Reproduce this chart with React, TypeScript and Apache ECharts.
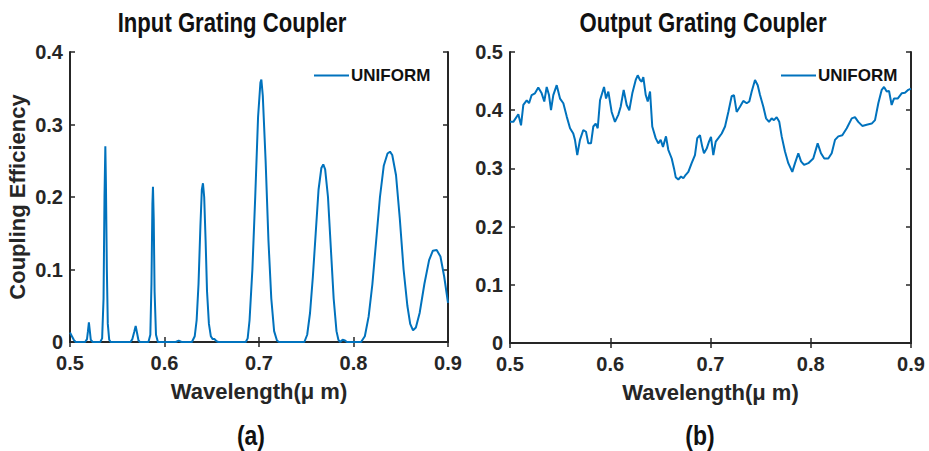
import React, { useEffect, useRef } from "react";
import * as echarts from "echarts";

// Panel (a): Input grating coupler
const inputWavelength = [
  0.5, 0.502, 0.504, 0.506, 0.516, 0.518, 0.519, 0.52, 0.521, 0.522, 0.524,
  0.532, 0.534, 0.5355, 0.5365, 0.5374, 0.538, 0.539, 0.54, 0.5415, 0.543,
  0.564, 0.566, 0.568, 0.5695, 0.571, 0.5725, 0.574,
  0.583, 0.585, 0.5862, 0.5872, 0.5878, 0.5886, 0.5895, 0.591, 0.593,
  0.612, 0.615, 0.618,
  0.629, 0.632, 0.634, 0.636, 0.638, 0.6395, 0.6407, 0.642, 0.6435, 0.645, 0.647, 0.649, 0.651, 0.653, 0.655, 0.657,
  0.686, 0.688, 0.69, 0.693, 0.696, 0.699, 0.7015, 0.7025, 0.704, 0.707, 0.71, 0.713, 0.716, 0.719, 0.721,
  0.748, 0.751, 0.754, 0.757, 0.76, 0.763, 0.766, 0.768, 0.77, 0.773, 0.776, 0.779, 0.782, 0.784, 0.786, 0.7885, 0.791, 0.793,
  0.808, 0.812, 0.816, 0.82, 0.824, 0.828, 0.832, 0.836, 0.8386, 0.841, 0.845, 0.849, 0.853, 0.857, 0.86, 0.863,
  0.866, 0.87, 0.875, 0.88, 0.884, 0.888, 0.892, 0.896, 0.9,
];
const inputEfficiency = [
  0.013, 0.008, 0.003, 0.0, 0.0, 0.004, 0.015, 0.027, 0.015, 0.003, 0.0,
  0.0, 0.005, 0.06, 0.2, 0.27, 0.22, 0.1, 0.025, 0.003, 0.0,
  0.0, 0.004, 0.014, 0.022, 0.012, 0.002, 0.0,
  0.0, 0.01, 0.08, 0.19, 0.214, 0.17, 0.07, 0.01, 0.0,
  0.0, 0.002, 0.0,
  0.0, 0.008, 0.03, 0.08, 0.16, 0.21, 0.219, 0.2, 0.14, 0.07, 0.025, 0.008, 0.004, 0.004, 0.001, 0.0,
  0.0, 0.005, 0.03, 0.1, 0.2, 0.31, 0.358, 0.362, 0.34, 0.25, 0.14, 0.06, 0.015, 0.002, 0.0,
  0.0, 0.01, 0.04, 0.09, 0.15, 0.21, 0.24, 0.245, 0.238, 0.2, 0.13, 0.06, 0.015, 0.003, 0.0, 0.003, 0.002, 0.0,
  0.0, 0.008, 0.035, 0.08, 0.14, 0.2, 0.243, 0.26, 0.2625, 0.258, 0.23, 0.17, 0.1, 0.05, 0.025, 0.016,
  0.02, 0.04, 0.08, 0.113, 0.126, 0.127, 0.118, 0.09, 0.054,
];

// Panel (b): Output grating coupler
const outputWavelength = [
  0.5, 0.5033, 0.5083, 0.511, 0.5133, 0.5167, 0.519, 0.5216, 0.5249, 0.5282,
  0.5316, 0.5342, 0.5366, 0.5389, 0.5409, 0.5432, 0.5466, 0.5499, 0.5532, 0.5566,
  0.5599, 0.5631, 0.5648, 0.5671, 0.5698, 0.5731, 0.5758, 0.5781, 0.5808, 0.5831,
  0.5855, 0.5875, 0.5898, 0.5938, 0.5958, 0.5981, 0.6014, 0.6047, 0.608, 0.6104,
  0.6134, 0.6164, 0.619, 0.622, 0.6254, 0.6274, 0.6297, 0.6314, 0.633, 0.6354,
  0.6374, 0.6397, 0.6419, 0.6453, 0.6479, 0.6503, 0.6526, 0.6556, 0.6579, 0.6613,
  0.6636, 0.6653, 0.6679, 0.6706, 0.6729, 0.6753, 0.6779, 0.6812, 0.6845, 0.6868,
  0.6895, 0.6918, 0.6935, 0.6962, 0.6985, 0.7005, 0.7028, 0.7052, 0.7078, 0.7112,
  0.7145, 0.7178, 0.7211, 0.7234, 0.7261, 0.7294, 0.7327, 0.7361, 0.7387, 0.7411,
  0.7444, 0.7471, 0.7494, 0.7527, 0.7554, 0.7584, 0.761, 0.7633, 0.766, 0.7686,
  0.771, 0.7743, 0.7776, 0.7816, 0.7843, 0.7876, 0.7903, 0.7933, 0.7976, 0.8025,
  0.8069, 0.8102, 0.8135, 0.8175, 0.8209, 0.8242, 0.8275, 0.8315, 0.8359, 0.8409,
  0.8441, 0.8474, 0.8514, 0.8558, 0.8608, 0.8641, 0.8674, 0.8708, 0.8731, 0.8758,
  0.8781, 0.8807, 0.883, 0.8867, 0.8907, 0.894, 0.8973, 0.9,
];
const outputEfficiency = [
  0.38, 0.38, 0.393, 0.374, 0.409, 0.417, 0.412, 0.426, 0.429, 0.439,
  0.429, 0.415, 0.44, 0.426, 0.4, 0.426, 0.443, 0.42, 0.412, 0.389,
  0.369, 0.36, 0.349, 0.323, 0.349, 0.366, 0.363, 0.343, 0.343, 0.372,
  0.377, 0.369, 0.417, 0.44, 0.42, 0.432, 0.397, 0.38, 0.392, 0.406,
  0.435, 0.409, 0.4, 0.429, 0.452, 0.46, 0.452, 0.449, 0.457, 0.426,
  0.415, 0.432, 0.372, 0.352, 0.343, 0.349, 0.337, 0.355, 0.332, 0.317,
  0.3, 0.285, 0.281, 0.286, 0.283, 0.289, 0.294, 0.309, 0.323, 0.352,
  0.357, 0.337, 0.326, 0.334, 0.346, 0.354, 0.323, 0.346, 0.352, 0.36,
  0.372, 0.397, 0.424, 0.426, 0.397, 0.406, 0.416, 0.412, 0.415, 0.432,
  0.452, 0.443, 0.426, 0.406, 0.386, 0.38, 0.386, 0.383, 0.388, 0.38,
  0.355, 0.329, 0.309, 0.294, 0.309, 0.326, 0.312, 0.306, 0.309, 0.317,
  0.343, 0.326, 0.317, 0.317, 0.326, 0.349, 0.355, 0.357, 0.369, 0.386,
  0.388, 0.38, 0.373, 0.375, 0.377, 0.383, 0.412, 0.435, 0.44, 0.432,
  0.433, 0.409, 0.42, 0.42, 0.429, 0.43, 0.435, 0.437,
];

const xTicks = [0.5, 0.6, 0.7, 0.8, 0.9];
const seriesName = "UNIFORM";
const panelTitles = ["Input Grating Coupler", "Output Grating Coupler"];
const panelLabels = ["(a)", "(b)"];
const yAxisTitle = "Coupling Efficiency";
const xAxisTitle = "Wavelength(\u03bc m)";

const LINE_COLOR = "#0072BD";
const AXIS_COLOR = "#262626";
const FONT = "'Liberation Sans', Arial, sans-serif";

export default function App() {
  const ref = useRef<HTMLDivElement>(null);

  useEffect(() => {
    if (!ref.current) return;
    const chart = echarts.init(ref.current, null, { renderer: "svg" });

    const axisLine = { show: true, lineStyle: { color: AXIS_COLOR, width: 2 } };
    const tickStyle = { show: true, inside: true, length: 5, lineStyle: { color: AXIS_COLOR, width: 1.5 } };
    const labelStyle = { fontFamily: FONT, fontWeight: "bold" as const, fontSize: 20, color: "#262626" };
    const nameStyle = { fontFamily: FONT, fontWeight: "bold" as const, fontSize: 22, color: "#262626" };

    const makeX = (gi: number) => [
      {
        gridIndex: gi,
        type: "value",
        min: xTicks[0],
        max: xTicks[xTicks.length - 1],
        interval: 0.1,
        position: "bottom",
        axisLine,
        axisTick: tickStyle,
        axisLabel: { ...labelStyle, margin: 11 },
        splitLine: { show: false },
        name: xAxisTitle,
        nameLocation: "middle",
        nameGap: 38,
        nameTextStyle: nameStyle,
      },
      {
        gridIndex: gi,
        type: "value",
        min: xTicks[0],
        max: xTicks[xTicks.length - 1],
        interval: 0.1,
        position: "top",
        axisLine,
        axisTick: tickStyle,
        axisLabel: { show: false },
        splitLine: { show: false },
      },
    ];
    const makeY = (gi: number, max: number, withName: boolean) => [
      {
        gridIndex: gi,
        type: "value",
        min: 0,
        max,
        interval: 0.1,
        position: "left",
        axisLine,
        axisTick: tickStyle,
        axisLabel: { ...labelStyle, margin: 7 },
        splitLine: { show: false },
        name: withName ? yAxisTitle : "",
        nameLocation: "middle",
        nameGap: 42,
        nameTextStyle: nameStyle,
      },
      {
        gridIndex: gi,
        type: "value",
        min: 0,
        max,
        interval: 0.1,
        position: "right",
        axisLine,
        axisTick: tickStyle,
        axisLabel: { show: false },
        splitLine: { show: false },
      },
    ];

    const inputData = inputWavelength.map((x, i) => [x, inputEfficiency[i]]);
    const outputData = outputWavelength.map((x, i) => [x, outputEfficiency[i]]);

    const condensedText = (text: string, x: number, y: number, size: number, sx: number) => ({
      type: "text",
      x,
      y,
      scaleX: sx,
      scaleY: 1,
      silent: true,
      style: {
        text,
        fill: "#111",
        font: `bold ${size}px ${FONT}`,
        textAlign: "center",
        textVerticalAlign: "middle",
      },
    });

    const legendBase = {
      top: 62,
      icon: "rect",
      itemWidth: 35,
      itemHeight: 2,
      itemGap: 4,
      data: [seriesName],
      textStyle: { fontFamily: FONT, fontWeight: "bold" as const, fontSize: 17, color: "#111", padding: [0, 0, 0, -3] },
      selectedMode: false,
    };

    chart.setOption({
      animation: false,
      backgroundColor: "#ffffff",
      graphic: [
        condensedText(panelTitles[0], 232, 23, 27, 0.82),
        condensedText(panelTitles[1], 703, 23, 27, 0.82),
        condensedText(panelLabels[0], 251, 435, 27, 0.85),
        condensedText(panelLabels[1], 700, 435, 27, 0.85),
      ],
      legend: [
        { ...legendBase, left: 309 },
        { ...legendBase, left: 776 },
      ],
      grid: [
        { left: 70, top: 52, width: 378, height: 290 },
        { left: 510, top: 52, width: 401, height: 291 },
      ],
      xAxis: [...makeX(0), ...makeX(1)],
      yAxis: [...makeY(0, 0.4, true), ...makeY(1, 0.5, false)],
      series: [
        {
          name: seriesName,
          type: "line",
          xAxisIndex: 0,
          yAxisIndex: 0,
          data: inputData,
          symbol: "none",
          smooth: false,
          lineStyle: { color: LINE_COLOR, width: 2 },
          itemStyle: { color: LINE_COLOR },
        },
        {
          name: seriesName,
          type: "line",
          xAxisIndex: 2,
          yAxisIndex: 2,
          data: outputData,
          symbol: "none",
          smooth: false,
          lineStyle: { color: LINE_COLOR, width: 2 },
          itemStyle: { color: LINE_COLOR },
        },
      ],
    });

    return () => chart.dispose();
  }, []);

  return (
    <div
      ref={ref}
      style={{ position: "fixed", left: 0, top: 0, width: 929, height: 451, background: "#fff" }}
    />
  );
}
